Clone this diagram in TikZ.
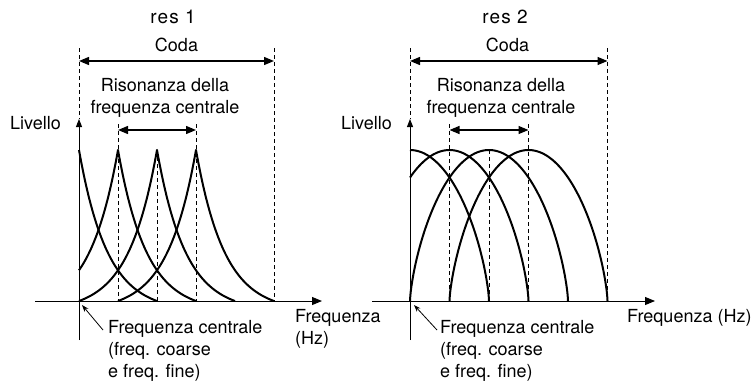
\documentclass[tikz,border=0pt]{standalone}
\usepackage{fontspec}
\setmainfont{TeX Gyre Heros}
\usetikzlibrary{arrows.meta}
\tikzset{
  curve/.style={line width=2pt, line join=round, line cap=butt},
  guide/.style={line width=0.9pt, dash pattern=on 4pt off 3pt},
  axisline/.style={line width=1pt},
  yaxis/.style={axisline, -{Triangle[length=8pt,width=6pt]}},
  xaxis/.style={axisline, -{Triangle[length=10pt,width=8pt]}},
  dim/.style={line width=1.3pt, {Triangle[length=10pt,width=8pt]}-{Triangle[length=10pt,width=8pt]}},
  pointer/.style={line width=0.8pt, -{Stealth[length=7pt,width=5pt]}},
  lbl/.style={font=\fontsize{18}{22}\selectfont, inner sep=0pt},
  ttl/.style={font=\fontsize{19}{22}\selectfont\addfontfeature{LetterSpace=6}, inner sep=0pt},
}
\begin{document}
\begin{tikzpicture}[x=1pt,y=-1pt]
\useasboundingbox (0,0) rectangle (754,380);
% ---------------- left panel (res 1) ----------------
\coordinate (LO) at (79,301);
\coordinate (LyB) at (79,340);
\coordinate (LyT) at (79,119);
\coordinate (LxA) at (35,301);
\coordinate (LxB) at (322,301);
\coordinate (LdA) at (79,48);
\coordinate (LdAb) at (79,119);
\coordinate (LdB) at (274,48);
\coordinate (LdBb) at (274,301);
\coordinate (LcA) at (79,61);
\coordinate (LcB) at (274,61);
\coordinate (Lr1) at (118,124);
\coordinate (Lr1b) at (118,301);
\coordinate (Lr2) at (196,124);
\coordinate (Lr2b) at (196,301);
\coordinate (Lm) at (157,150);
\coordinate (Lmb) at (157,301);
\coordinate (LsA) at (118,130);
\coordinate (LsB) at (196,130);
\coordinate (LpA) at (103,330);
\coordinate (LpB) at (82,305);

\draw[guide] (LdA) -- (LdAb);
\draw[guide] (LdB) -- (LdBb);
\draw[guide] (Lr1) -- (Lr1b);
\draw[guide] (Lr2) -- (Lr2b);
\draw[guide] (Lm) -- (Lmb);
\draw[dim] (LcA) -- (LcB);
\draw[dim] (LsA) -- (LsB);

% cusp curves
\draw[curve] plot[domain=0:78,samples=60] ({79+\x},{301-151*(exp(-0.035*\x)-exp(-2.73))/(1-exp(-2.73))});
\draw[curve] plot[domain=39:0,samples=30] ({118-\x},{301-151*(exp(-0.035*\x)-exp(-2.73))/(1-exp(-2.73))})
   -- plot[domain=0:78,samples=60] ({118+\x},{301-151*(exp(-0.035*\x)-exp(-2.73))/(1-exp(-2.73))});
\draw[curve] plot[domain=78:0,samples=60] ({157-\x},{301-151*(exp(-0.035*\x)-exp(-2.73))/(1-exp(-2.73))})
   -- plot[domain=0:78,samples=60] ({157+\x},{301-151*(exp(-0.035*\x)-exp(-2.73))/(1-exp(-2.73))});
\draw[curve] plot[domain=78:0,samples=60] ({196-\x},{301-151*(exp(-0.035*\x)-exp(-2.73))/(1-exp(-2.73))})
   -- plot[domain=0:78,samples=60] ({196+\x},{301-151*(exp(-0.035*\x)-exp(-2.73))/(1-exp(-2.73))});

\draw[xaxis] (LxA) -- (LxB);
\draw[yaxis] (LyB) -- (LyT);
\draw[pointer] (LpA) -- (LpB);

\node[ttl] (Lt) at (173,17) {res 1};
\node[lbl] (Lcoda) at (176.5,45) {Coda};
\node[lbl, align=center, anchor=north] (Lris) at (165,78) {Risonanza della\\frequenza centrale};
\node[lbl, anchor=north east] (Lliv) at (61,116) {Livello};
\node[lbl, align=left, anchor=north west] (Lfc) at (108,320) {Frequenza centrale\\(freq. coarse\\e freq. fine)};
\node[lbl, align=left, anchor=north west] (Lhz) at (295,309) {Frequenza\\(Hz)};

% ---------------- right panel (res 2) ----------------
\coordinate (RyB) at (410,340);
\coordinate (RyT) at (410,119);
\coordinate (RxA) at (372,301);
\coordinate (RxB) at (655,301);
\coordinate (RdA) at (410,48);
\coordinate (RdAb) at (410,119);
\coordinate (RdB) at (607.5,48);
\coordinate (RdBb) at (607.5,301);
\coordinate (RcA) at (410,61);
\coordinate (RcB) at (607.5,61);
\coordinate (Rr1) at (449.5,124);
\coordinate (Rr1b) at (449.5,301);
\coordinate (Rr2) at (528.5,124);
\coordinate (Rr2b) at (528.5,301);
\coordinate (Rm) at (489,150);
\coordinate (Rmb) at (489,301);
\coordinate (RsA) at (449.5,130);
\coordinate (RsB) at (528.5,130);
\coordinate (RpA) at (437,330);
\coordinate (RpB) at (414,305);

\draw[guide] (RdA) -- (RdAb);
\draw[guide] (RdB) -- (RdBb);
\draw[guide] (Rr1) -- (Rr1b);
\draw[guide] (Rr2) -- (Rr2b);
\draw[guide] (Rm) -- (Rmb);
\draw[dim] (RcA) -- (RcB);
\draw[dim] (RsA) -- (RsB);

% arch curves
\draw[curve] plot[domain=0:90,samples=60] ({410+79*sin(\x)},{301-151*max(cos(\x),0.0001)^1.4});
\draw[curve] plot[domain=-30:90,samples=80] ({449.5+79*sin(\x)},{301-151*max(cos(\x),0.0001)^1.4});
\draw[curve] plot[domain=-90:90,samples=100] ({489+79*sin(\x)},{301-151*max(cos(\x),0.0001)^1.4});
\draw[curve] plot[domain=-90:90,samples=100] ({528.5+79*sin(\x)},{301-151*max(cos(\x),0.0001)^1.4});

\draw[xaxis] (RxA) -- (RxB);
\draw[yaxis] (RyB) -- (RyT);
\draw[pointer] (RpA) -- (RpB);

\node[ttl] (Rt) at (505,17) {res 2};
\node[lbl] (Rcoda) at (507.5,45) {Coda};
\node[lbl, align=center, anchor=north] (Rris) at (501,78) {Risonanza della\\frequenza centrale};
\node[lbl, anchor=north east] (Rliv) at (392,116) {Livello};
\node[lbl, align=left, anchor=north west] (Rfc) at (440,320) {Frequenza centrale\\(freq. coarse\\e freq. fine)};
\node[lbl, anchor=north west] (Rhz) at (627,309) {Frequenza (Hz)};
\end{tikzpicture}
\end{document}
